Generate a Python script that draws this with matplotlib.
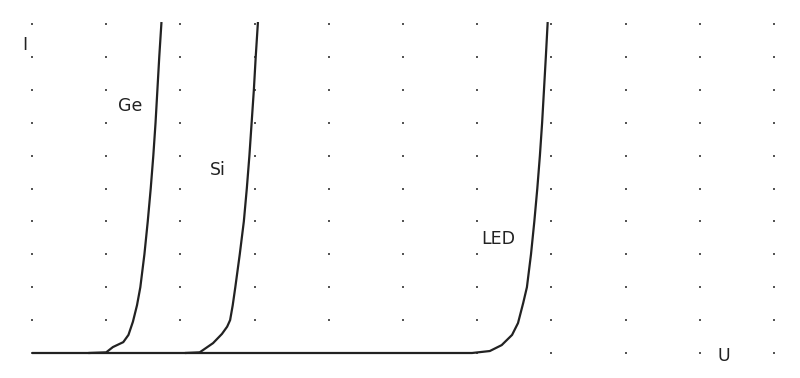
import numpy as np
import matplotlib
matplotlib.use("Agg")
import matplotlib.pyplot as plt

# Diode characteristic curves (U in grid units, I in grid units)
ge_u = [0.76, 1.00, 1.09, 1.23, 1.30, 1.36, 1.415, 1.46, 1.515, 1.56, 1.60, 1.635, 1.665, 1.69, 1.715, 1.745]
ge_i = [0.00, 0.02, 0.18, 0.33, 0.55, 0.95, 1.45, 2.00, 3.00, 4.00, 5.00, 6.00, 7.00, 8.00, 9.00, 10.06]

si_u = [2.06, 2.26, 2.44, 2.56, 2.63, 2.67, 2.705, 2.74, 2.80, 2.855, 2.895, 2.93, 2.96, 2.99, 3.015, 3.045]
si_i = [0.00, 0.02, 0.30, 0.58, 0.80, 1.00, 1.45, 2.00, 3.00, 4.00, 5.00, 6.00, 7.00, 8.00, 9.00, 10.06]

led_u = [0.00, 5.93, 6.17, 6.33, 6.47, 6.55, 6.62, 6.67, 6.725, 6.77, 6.81, 6.845, 6.875, 6.90, 6.925, 6.95]
led_i = [0.00, 0.00, 0.06, 0.24, 0.55, 0.91, 1.52, 2.00, 3.00, 4.00, 5.00, 6.00, 7.00, 8.00, 9.00, 10.06]

labels = ["Ge", "Si", "LED"]
label_u = [1.33, 2.51, 6.29]
label_i = [7.51, 5.56, 3.47]

grid_cols = 11
grid_rows = 11

fig = plt.figure(figsize=(8, 3.78), dpi=100)
ax = fig.add_axes([0, 0, 1, 1])
ax.set_xlim(-32 / 74.2, (800 - 32) / 74.2)
ax.set_ylim(-(378 - 353) / 32.9, 353 / 32.9)
ax.axis("off")

gx, gy = np.meshgrid(np.arange(grid_cols), np.arange(grid_rows))
ax.scatter(gx.ravel(), gy.ravel(), s=2.8, marker="s", color="#555555", linewidths=0, zorder=1)

lc = "#222222"
for u, i in [(led_u, led_i), (ge_u, ge_i), (si_u, si_i)]:
    ax.plot(u, i, color=lc, lw=1.6, solid_capstyle="butt", solid_joinstyle="round", zorder=2)

fs = 12.5
for t, x, y in zip(labels, label_u, label_i):
    ax.text(x, y, t, ha="center", va="center", fontsize=fs, color=lc)
ax.text(-0.094, 9.36, "I", ha="center", va="center", fontsize=fs, color=lc)
ax.text(9.33, -0.09, "U", ha="center", va="center", fontsize=fs, color=lc)

fig.savefig("out.png", dpi=100)
